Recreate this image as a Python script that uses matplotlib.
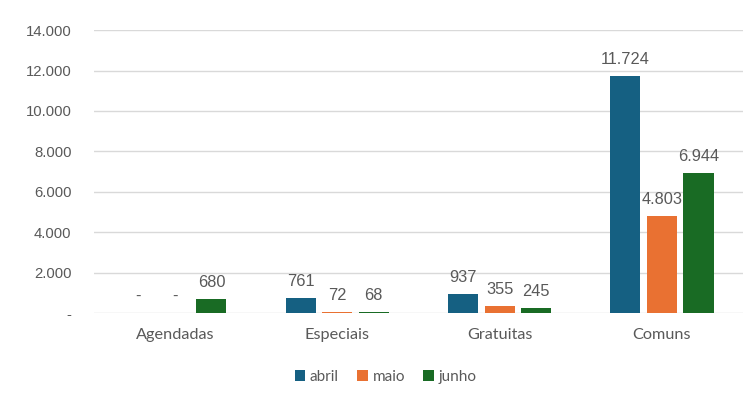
import matplotlib.pyplot as plt
import numpy as np

# dados do gráfico
categorias = ['Agendadas', 'Especiais', 'Gratuitas', 'Comuns']
meses = ['abril', 'maio', 'junho']
abril = [0, 761, 937, 11724]
maio = [0, 72, 355, 4803]
junho = [680, 68, 245, 6944]
cores = ['#156082', '#E97132', '#196B24']


def fmt(v):
    # formato pt-BR: separador de milhar com ponto, zero como "-"
    if v == 0:
        return '-'
    return f'{v:,.0f}'.replace(',', '.')


plt.rcParams['font.family'] = ['Liberation Sans', 'DejaVu Sans']
texto = '#595959'

fig = plt.figure(figsize=(7.56, 4.01), dpi=100)
ax = fig.add_axes([0.124, 0.219, 0.859, 0.706])

x = np.arange(len(categorias))
largura = 0.185
passo = 0.225
series = [abril, maio, junho]

for i, (nome, vals) in enumerate(zip(meses, series)):
    pos = x + (i - 1) * passo
    ax.bar(pos, vals, width=largura, color=cores[i], label=nome, zorder=3)
    for p, v in zip(pos, vals):
        ax.annotate(fmt(v), (p, v), xytext=(0, 6.5), textcoords='offset points',
                    ha='center', va='bottom', fontsize=11.8, color=texto)

ax.set_xlim(-0.5, len(categorias) - 0.5)
ax.set_ylim(0, 14000)
ax.set_yticks(range(0, 14001, 2000))
ax.set_yticklabels([fmt(v) for v in range(0, 14001, 2000)])
ax.set_xticks(x)
ax.set_xticklabels(categorias, family=['Lato', 'DejaVu Sans'], fontsize=11.7)

ax.grid(axis='y', color='#D9D9D9', linewidth=1, zorder=0)
for s in ['top', 'right', 'left', 'bottom']:
    ax.spines[s].set_visible(False)
ax.tick_params(axis='y', length=0, pad=16, labelsize=10.7, labelcolor=texto)
ax.tick_params(axis='x', length=0, pad=11, labelcolor=texto)

leg = fig.legend(loc='center', bbox_to_anchor=(0.51, 0.06), ncol=3, frameon=False,
                 handlelength=0.7, handleheight=0.7, handletextpad=0.3, columnspacing=1.2,
                 prop={'family': ['Lato', 'DejaVu Sans'], 'size': 11})
for t in leg.get_texts():
    t.set_color(texto)

fig.savefig('out.png', dpi=100)
